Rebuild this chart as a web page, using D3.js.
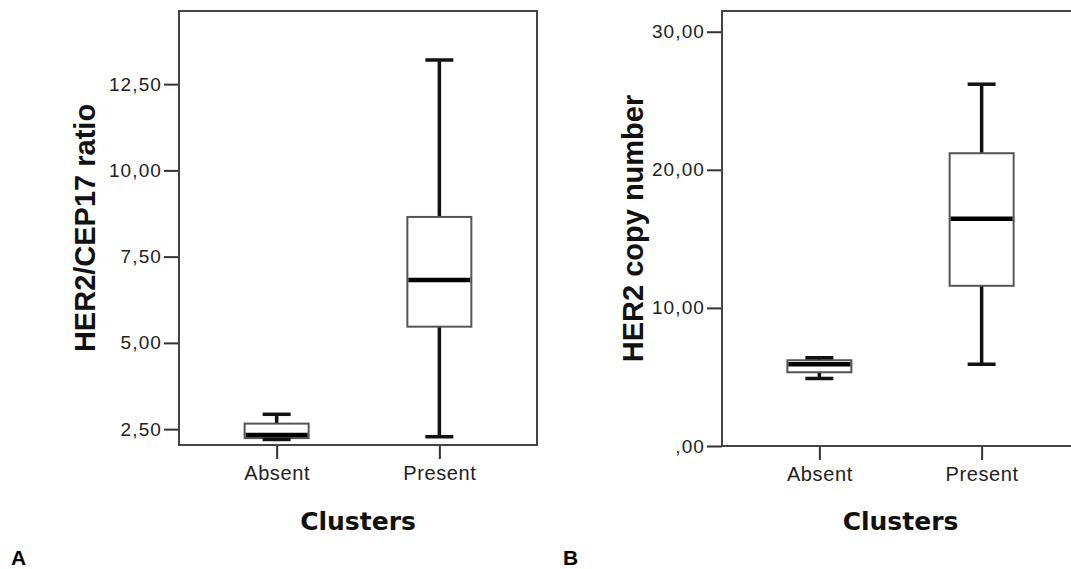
<!DOCTYPE html>
<html>
<head>
<meta charset="utf-8">
<script src="https://cdn.jsdelivr.net/npm/d3@7"></script>
<style>
  body { margin: 0; background: #fff; }
  svg { display: block; }
</style>
</head>
<body>
<div id="chart"></div>
<script>
// categories on the x axis (both panels)
var categories = ["Absent", "Present"];

// panel A: HER2/CEP17 ratio (low whisker, Q1, median, Q3, high whisker)
var ratioLow    = [2.20, 2.28];
var ratioQ1     = [2.24, 5.47];
var ratioMedian = [2.33, 6.82];
var ratioQ3     = [2.66, 8.65];
var ratioHigh   = [2.93, 13.20];
var ratioTicks  = [2.5, 5, 7.5, 10, 12.5];

// panel B: HER2 copy number
var copyLow    = [4.89, 5.92];
var copyQ1     = [5.34, 11.60];
var copyMedian = [5.92, 16.45];
var copyQ3     = [6.21, 21.20];
var copyHigh   = [6.39, 26.20];
var copyTicks  = [0, 10, 20, 30];

var width = 1071, height = 569;

var svg = d3.select("#chart").append("svg")
  .attr("width", width)
  .attr("height", height);

svg.append("rect").attr("width", width).attr("height", height).attr("fill", "#fff");

var locale = d3.formatLocale({decimal: ",", thousands: ".", grouping: [3], currency: ["", ""]});
var fmt = locale.format(".2f");
// SPSS drops the leading zero: ",00"
function spssFormat(v) {
  var s = fmt(v);
  return s.indexOf("0,") === 0 ? s.slice(1) : s;
}

function drawPanel(opt) {
  var x = d3.scalePoint()
    .domain(categories)
    .range([opt.left, opt.right])
    .padding(0.6);

  var y = d3.scaleLinear()
    .domain(opt.domain)
    .range([opt.bottom, opt.top]);

  var g = svg.append("g");

  var rows = categories.map(function(c, i) {
    return {cat: c, low: opt.low[i], q1: opt.q1[i], med: opt.med[i], q3: opt.q3[i], high: opt.high[i]};
  });

  var boxW = 64, capW = 28;

  // y axis
  var yAxis = g.append("g")
    .attr("transform", "translate(" + opt.left + ",0)")
    .call(d3.axisLeft(y).tickValues(opt.ticks).tickFormat(spssFormat).tickSize(15).tickPadding(2));
  yAxis.select(".domain").remove();
  yAxis.selectAll(".tick line").attr("stroke", "#333").attr("stroke-width", 2);
  yAxis.selectAll(".tick text")
    .attr("fill", "#222")
    .style("font-family", "'Liberation Sans', Arial, sans-serif")
    .style("font-size", "19px")
    .style("letter-spacing", "1.1px");

  // x axis
  var xAxis = g.append("g")
    .attr("transform", "translate(0," + opt.bottom + ")")
    .call(d3.axisBottom(x).tickSize(14).tickPadding(7));
  xAxis.select(".domain").remove();
  xAxis.selectAll(".tick line").attr("stroke", "#333").attr("stroke-width", 2);
  xAxis.selectAll(".tick text")
    .attr("fill", "#222")
    .style("font-family", "'Liberation Sans', Arial, sans-serif")
    .style("font-size", "20px")
    .style("letter-spacing", "0.6px");

  // frame
  g.append("rect")
    .attr("x", opt.left)
    .attr("y", opt.top)
    .attr("width", opt.right - opt.left)
    .attr("height", opt.bottom - opt.top)
    .attr("fill", "none")
    .attr("stroke", "#444")
    .attr("stroke-width", 2);

  var box = g.selectAll(".box").data(rows).enter().append("g").attr("class", "box");

  // whiskers
  box.append("line")
    .attr("x1", function(d) { return x(d.cat); })
    .attr("x2", function(d) { return x(d.cat); })
    .attr("y1", function(d) { return y(d.high); })
    .attr("y2", function(d) { return y(d.low); })
    .attr("stroke", "#111")
    .attr("stroke-width", 3.5);

  // box
  box.append("rect")
    .attr("x", function(d) { return x(d.cat) - boxW / 2; })
    .attr("y", function(d) { return y(d.q3); })
    .attr("width", boxW)
    .attr("height", function(d) { return y(d.q1) - y(d.q3); })
    .attr("fill", "#fff")
    .attr("stroke", "#555")
    .attr("stroke-width", 2);

  // median
  box.append("line")
    .attr("x1", function(d) { return x(d.cat) - boxW / 2 + 1; })
    .attr("x2", function(d) { return x(d.cat) + boxW / 2 - 1; })
    .attr("y1", function(d) { return y(d.med); })
    .attr("y2", function(d) { return y(d.med); })
    .attr("stroke", "#000")
    .attr("stroke-width", 4.5);

  // caps
  ["low", "high"].forEach(function(k) {
    box.append("line")
      .attr("x1", function(d) { return x(d.cat) - capW / 2; })
      .attr("x2", function(d) { return x(d.cat) + capW / 2; })
      .attr("y1", function(d) { return y(d[k]); })
      .attr("y2", function(d) { return y(d[k]); })
      .attr("stroke", "#111")
      .attr("stroke-width", 3.5);
  });

  // y title
  g.append("text")
    .attr("transform", "translate(" + opt.titleX + "," + ((opt.top + opt.bottom) / 2) + ") rotate(-90)")
    .attr("text-anchor", "middle")
    .style("font-family", "'Liberation Sans', Arial, sans-serif")
    .style("font-weight", "bold")
    .style("font-size", "29px")
    .attr("fill", "#111")
    .text(opt.yTitle);

  // x title
  g.append("text")
    .attr("x", (opt.left + opt.right) / 2)
    .attr("y", 530)
    .attr("text-anchor", "middle")
    .style("font-family", "'DejaVu Sans', Verdana, sans-serif")
    .style("font-weight", "bold")
    .style("font-size", "25px")
    .attr("fill", "#111")
    .text("Clusters");

  // panel letter
  g.append("text")
    .attr("x", opt.letterX)
    .attr("y", 565)
    .style("font-family", "'Liberation Sans', Arial, sans-serif")
    .style("font-weight", "bold")
    .style("font-size", "21px")
    .attr("fill", "#000")
    .text(opt.letter);
}

drawPanel({
  left: 179, right: 537, top: 11, bottom: 445,
  domain: [2.04, 14.62],
  ticks: ratioTicks,
  low: ratioLow, q1: ratioQ1, med: ratioMedian, q3: ratioQ3, high: ratioHigh,
  yTitle: "HER2/CEP17 ratio", titleX: 95,
  letter: "A", letterX: 11
});

drawPanel({
  left: 722, right: 1079, top: 11, bottom: 446,
  domain: [0, 31.5],
  ticks: copyTicks,
  low: copyLow, q1: copyQ1, med: copyMedian, q3: copyQ3, high: copyHigh,
  yTitle: "HER2 copy number", titleX: 643,
  letter: "B", letterX: 563
});
</script>
</body>
</html>
